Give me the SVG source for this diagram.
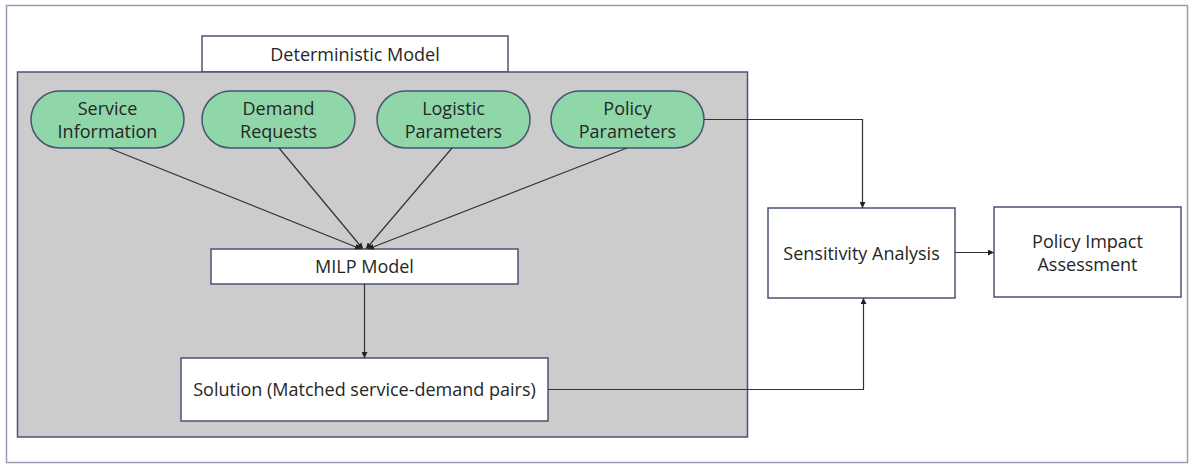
<svg xmlns="http://www.w3.org/2000/svg" width="1193" height="465" viewBox="0 0 1193 465">
<style>
text{font-family:"Open Sans","Liberation Sans",sans-serif;font-size:18px;fill:#262626;text-anchor:middle}
.box{fill:#ffffff;stroke:#4b5275;stroke-width:1.5}
.term{fill:#8fd6a9;stroke:#4b5275;stroke-width:1.5}
.conn{fill:none;stroke:#333333;stroke-width:1.2;marker-end:url(#ah)}
</style>
<defs>
<marker id="ah" viewBox="0 0 8 8" refX="8" refY="4" markerWidth="6" markerHeight="6" markerUnits="userSpaceOnUse" orient="auto">
<path d="M0,0 L8,4 L0,8 z" fill="#222"/>
</marker>
</defs>
<rect width="1193" height="465" fill="#ffffff"/>
<rect id="frame" x="6.5" y="5.5" width="1181" height="457" fill="#ffffff" stroke="#9a9eb5" stroke-width="1.5"/>
<g id="deterministic-model">
<rect class="box" x="202" y="36" width="306" height="36"/>
<rect x="17.5" y="72" width="730" height="365" fill="#cccccc" stroke="#4b5275" stroke-width="1.5"/>
<text x="355" y="61">Deterministic Model</text>
</g>
<g id="service-information">
<rect class="term" x="31" y="91" width="153" height="57" rx="28.5"/>
<text x="107.5" y="115">Service</text><text x="107.5" y="138">Information</text>
</g>
<g id="demand-requests">
<rect class="term" x="202" y="91" width="153" height="57" rx="28.5"/>
<text x="278.5" y="115">Demand</text><text x="278.5" y="138">Requests</text>
</g>
<g id="logistic-parameters">
<rect class="term" x="377" y="91" width="153" height="57" rx="28.5"/>
<text x="453.5" y="115">Logistic</text><text x="453.5" y="138">Parameters</text>
</g>
<g id="policy-parameters">
<rect class="term" x="551" y="91" width="153" height="57" rx="28.5"/>
<text x="627.5" y="115">Policy</text><text x="627.5" y="138">Parameters</text>
</g>
<g id="milp-model">
<rect class="box" x="211" y="249" width="307" height="35"/>
<text x="364.5" y="273">MILP Model</text>
</g>
<g id="solution">
<rect class="box" x="181" y="358" width="367" height="63"/>
<text x="364.5" y="396">Solution (Matched service-demand pairs)</text>
</g>
<g id="sensitivity-analysis">
<rect class="box" x="768" y="208" width="187" height="90"/>
<text x="861.5" y="260">Sensitivity Analysis</text>
</g>
<g id="policy-impact-assessment">
<rect class="box" x="994" y="207" width="187" height="90"/>
<text x="1087.5" y="248">Policy Impact</text><text x="1087.5" y="271">Assessment</text>
</g>
<g id="connectors">
<line class="conn" x1="109" y1="148" x2="361" y2="249"/>
<line class="conn" x1="279" y1="148" x2="363" y2="249"/>
<line class="conn" x1="452" y1="148" x2="366" y2="249"/>
<line class="conn" x1="627" y1="148" x2="368" y2="249"/>
<line class="conn" x1="364.5" y1="284" x2="364.5" y2="358"/>
<path class="conn" d="M704,119.5 H862.5 V208"/>
<path class="conn" d="M548,389.5 H863.5 V298"/>
<line class="conn" x1="955" y1="252.5" x2="994" y2="252.5"/>
</g>
</svg>
